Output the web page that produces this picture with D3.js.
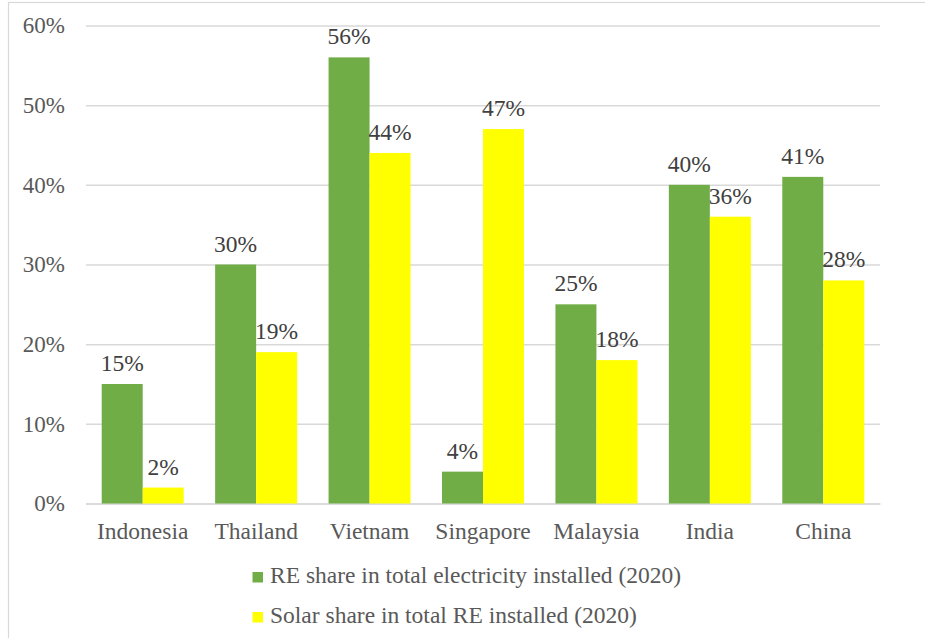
<!DOCTYPE html>
<html>
<head>
<meta charset="utf-8">
<script src="https://cdn.jsdelivr.net/npm/d3@7"></script>
<style>
  html, body { margin: 0; padding: 0; background: #fff; }
  svg { display: block; }
  svg text { font-family: "Liberation Serif", "Times New Roman", serif; }
</style>
</head>
<body>
<svg id="chart" width="925" height="638"></svg>
<script>
// Renewable energy shares by country (percent)
const categories = ["Indonesia", "Thailand", "Vietnam", "Singapore", "Malaysia", "India", "China"];
const reShare = [15, 30, 56, 4, 25, 40, 41];
const solarShare = [2, 19, 44, 47, 18, 36, 28];
const seriesNames = ["RE share in total electricity installed (2020)", "Solar share in total RE installed (2020)"];
const yTicks = [0, 10, 20, 30, 40, 50, 60];

const colors = ["#70AD47", "#FFFF00"];
const series = [reShare, solarShare];

const svg = d3.select("#chart");
const W = 925, H = 638;
const plot = { left: 86, right: 880, top: 25.5, bottom: 503.5 };
const FONT = 23.5;

// Outer chart frame (extends past the canvas on right and bottom)
svg.append("rect")
  .attr("x", 8.5).attr("y", 2.5)
  .attr("width", W + 20).attr("height", H + 20)
  .attr("fill", "#fff").attr("stroke", "#d9d9d9").attr("stroke-width", 1.2);

const x = d3.scaleBand().domain(categories).range([plot.left, plot.right]).paddingInner(0).paddingOuter(0);
const groupFrac = 0.723;
const xSub = d3.scaleBand().domain([0, 1])
  .range([x.bandwidth() * (1 - groupFrac) / 2, x.bandwidth() * (1 + groupFrac) / 2]);
const y = d3.scaleLinear().domain([0, 60]).range([plot.bottom, plot.top]);

// Gridlines and y tick labels
const yAxis = d3.axisLeft(y).tickValues(yTicks).tickSize(-(plot.right - plot.left)).tickFormat(d => d + "%").tickPadding(21);
const gy = svg.append("g").attr("transform", `translate(${plot.left},0)`).call(yAxis);
gy.attr("font-family", null);
gy.select(".domain").remove();
gy.selectAll(".tick line").attr("stroke", "#d9d9d9").attr("stroke-width", 1.5);
gy.selectAll(".tick text").attr("fill", "#595959").attr("font-size", 23);

// Category axis
const xAxis = d3.axisBottom(x).tickSize(0).tickPadding(19);
const gx = svg.append("g").attr("transform", `translate(0,${plot.bottom})`).call(xAxis);
gx.attr("font-family", null);
gx.select(".domain").attr("stroke", "#d9d9d9").attr("stroke-width", 1.5);
gx.selectAll(".tick text").attr("fill", "#595959").attr("font-size", FONT);

// Bars and value labels
series.forEach((vals, si) => {
  const g = svg.append("g");
  g.selectAll("rect").data(vals).join("rect")
    .attr("x", (d, i) => x(categories[i]) + xSub(si))
    .attr("y", d => y(d))
    .attr("width", xSub.bandwidth())
    .attr("height", d => y(0) - y(d))
    .attr("fill", colors[si]);
  g.selectAll("text").data(vals).join("text")
    .attr("x", (d, i) => x(categories[i]) + xSub(si) + xSub.bandwidth() / 2)
    .attr("y", d => y(d) - 13)
    .attr("text-anchor", "middle")
    .attr("fill", "#404040")
    .attr("font-size", FONT)
    .text(d => d + "%");
});

// Legend
const legend = svg.append("g");
seriesNames.forEach((name, i) => {
  const ly = 583 + i * 40;
  legend.append("rect").attr("x", 252.5).attr("y", ly - 11).attr("width", 10.5).attr("height", 10.5).attr("fill", colors[i]);
  legend.append("text").attr("x", 270).attr("y", ly).attr("fill", "#595959").attr("font-size", FONT).text(name);
});
</script>
</body>
</html>
